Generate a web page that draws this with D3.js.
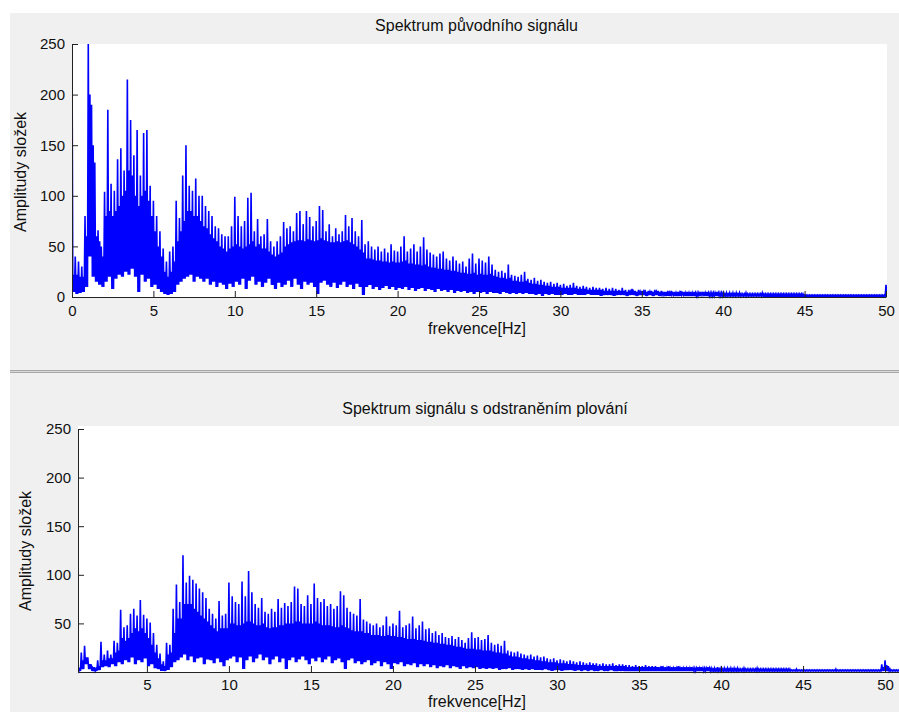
<!DOCTYPE html>
<html><head><meta charset="utf-8">
<script src="https://cdn.jsdelivr.net/npm/d3@7"></script>
<style>html,body{margin:0;padding:0;background:#fff;}svg{display:block;}</style>
</head><body>
<svg id="c" width="899" height="712"></svg>
<script>
// ---------- data (0.2 Hz bins: per-bin peak, level of the dense band, and trough) ----------
const binStep = 0.2;
const topStartHz = 0;
const topPeak = [
250,40,35,30,80, 250,190,133,66,50, 104,185,112,105,136, 147,125,215,175,140, 165,120,162,165,110,
95,80,65,48,35, 45,50,95,78,120, 150,110,105,117,100, 100,90,85,80,70, 68,62,60,60,70,
99,80,70,75,98, 103,65,77,60,62, 77,55,50,55,60, 74,68,70,65,83, 85,72,85,79,70,
75,90,86,65,72, 60,68,62,65,81, 70,78,65,60,76, 52,55,50,47,50, 45,48,44,52,46,
45,50,60,45,48, 52,45,50,59,47, 44,42,40,43,45, 38,36,40,36,33, 35,30,38,43,33,
38,36,34,40,32, 27,25,26,24,32, 22,21,20,22,25, 18,17,19,16,17, 15,14,15,13,14,
12,13,11,12,14, 11,10,11,10,9, 10,9,9,8,9, 8,9,8,7,9, 7,7,8,6,7,
6,7,6,6,7, 6,6,5,6,6, 5,5,6,5,5, 5,5,4,5,5, 5,4,4,5,4,
4,4,4,4,4, 4,3,4,3,3, 3,3,4,3,3, 3,3,3,3,3, 3,3,3,3,3,
2,2,2,2,2, 2,2,2,2,2, 2,2,2,2,2, 2,2,2,2,2, 2,2,2,2,2,
12];
const topBand = [
22,22,20,20,60, 200,150,60,55,40, 80,85,80,85,90, 100,105,125,120,100, 90,100,105,95,80,
65,50,40,25,20, 25,35,55,65,75, 85,85,80,80,75, 70,68,62,58,55, 50,48,45,48,50,
52,50,48,50,52, 55,50,52,48,48, 45,42,40,42,44, 50,52,54,55,56, 56,55,57,56,55,
56,58,56,55,54, 54,55,54,55,56, 54,52,50,47,44, 38,38,37,36,36, 35,35,34,35,34,
34,35,36,33,33, 32,32,31,32,30, 29,29,28,28,27, 27,26,26,25,24, 24,23,23,24,22,
23,22,22,23,21, 20,19,19,18,19, 16,16,15,15,16, 14,13,13,12,12, 11,11,10,10,10,
9,9,9,9,9, 8,8,8,7,7, 7,7,7,6,6, 6,6,6,6,6, 5,5,5,5,5,
5,5,5,5,5, 5,4,5,4,4, 4,4,4,4,4, 4,4,4,4,4, 4,4,4,4,4,
3,3,3,3,3, 3,3,3,3,3, 3,3,3,3,3, 3,3,3,3,3, 3,3,3,3,3,
2,2,2,2,2, 2,2,2,2,2, 2,2,2,2,2, 2,2,2,2,2, 2,2,2,2,2,
6];
const topTrough = [
5,3,4,5,10, 40,20,15,12,10, 15,20,8,18,22, 20,25,22,28,20, 5,22,15,18,10,
12,8,5,3,2, 3,5,12,15,18, 20,22,15,20,18, 15,18,12,15,10, 14,12,8,13,10,
15,12,18,8,16, 20,12,15,10,14, 18,12,8,14,10, 12,16,10,18,12, 8,15,12,14,10,
3,14,16,12,10, 14,9,12,15,10, 12,8,13,10,2, 10,12,8,10,7, 9,11,8,10,7,
9,8,10,7,9, 6,8,9,6,8, 7,5,8,6,7, 5,7,4,6,5, 6,4,5,3,5,
4,5,3,5,4, 4,3,5,4,3, 4,3,4,3,4, 3,3,2,3,1, 3,2,3,2,2,
2,3,2,2,3, 2,2,2,3,2, 2,2,1,2,2, 2,1,2,2,2, 1,2,2,1,2,
2,1,2,1,2, 1,2,1,1,2, 1,1,2,1,1, 1,1,1,2,1, 1,1,1,1,1,
1,1,1,1,1, 1,1,1,1,1, 1,1,1,1,1, 1,1,1,1,1, 1,1,1,1,1,
1,1,1,1,1, 1,1,1,1,1, 1,1,1,1,1, 1,1,1,1,1, 1,1,1,1,1,
2];
const botStartHz = 0.8;
const botPeak = [
5,20,27,15,8, 5,12,31,18,22, 18,32,30,64,46, 48,60,65,58,74, 59,55,51,40,28,
19,11,30,28,65, 90,72,120,92,99, 95,91,86,82,76, 65,60,55,73,58, 60,92,78,72,70,
93,78,104,82,70, 66,76,62,60,65, 62,75,66,71,68, 72,88,86,70,68, 79,70,91,76,72,
75,68,70,65,68, 83,79,66,62,60, 58,75,54,52,50, 48,50,46,48,57, 47,50,48,63,46,
48,50,57,45,48, 52,44,45,40,42, 38,40,36,35,37, 34,36,33,30,35, 41,35,36,33,34,
38,30,28,29,27, 32,22,21,20,21, 19,18,17,18,16, 17,15,16,14,13, 14,12,13,12,11,
12,11,10,11,10, 9,10,9,9,8, 9,8,8,9,7, 8,8,7,7,6, 7,6,6,7,6,
6,6,5,6,5, 6,5,5,6,5, 5,5,5,4,5, 5,4,5,4,4, 5,4,4,4,4,
4,4,3,4,3, 3,3,4,3,3, 3,3,3,3,3, 3,3,3,2,3, 2,2,2,2,2,
2,2,2,2,2, 2,3,2,2,2, 2,2,2,2,2, 2,2,2,2,2, 8,12,6,2,2,
2];
const botBand = [
3,12,15,8,4, 3,6,12,12,14, 14,20,22,35,32, 35,40,45,42,45, 40,35,28,20,14,
8,6,18,20,40, 55,55,70,70,70, 65,62,58,55,52, 48,45,42,45,45, 45,50,50,48,48,
50,52,52,50,48, 48,50,46,45,46, 46,48,48,50,50, 50,52,52,50,50, 50,50,52,50,48,
48,48,47,46,46, 48,46,45,43,42, 42,42,40,40,38, 38,38,37,37,38, 37,37,36,36,35,
34,34,34,33,33, 32,31,31,30,30, 29,29,28,28,27, 26,26,25,24,24, 24,23,23,22,22,
22,21,20,20,19, 19,17,16,16,15, 14,14,13,13,12, 12,11,11,10,10, 10,9,9,9,8,
8,8,7,7,7, 7,7,7,6,6, 6,6,6,6,6, 6,6,5,5,5, 5,5,5,5,5,
5,5,4,4,4, 4,4,4,4,4, 4,4,4,4,4, 4,4,4,3,3, 3,3,3,3,3,
3,3,3,3,3, 3,3,3,3,3, 3,3,3,3,3, 3,3,2,2,2, 2,2,2,2,2,
2,2,2,2,2, 2,2,2,2,2, 2,2,2,2,2, 2,2,2,2,2, 5,7,3,2,2,
2];
const botTrough = [
1,3,8,3,1, 1,2,5,6,5, 8,6,10,8,12, 10,15,8,12,10, 14,6,8,4,3,
1,1,2,5,10, 12,15,18,12,16, 10,14,15,8,13, 12,9,14,10,6, 12,14,16,10,15,
3,12,16,10,14, 18,12,15,8,13, 16,10,14,3,12, 15,10,13,16,12, 8,14,11,15,10,
13,16,9,12,14, 10,3,12,14,9, 11,8,10,12,7, 9,11,6,10,8, 3,9,8,10,6,
8,7,9,5,8, 6,8,5,7,4, 6,5,7,4,6, 5,3,6,4,5, 4,5,3,4,3,
4,3,4,2,3, 3,4,2,3,3, 2,3,2,3,2, 2,2,3,2,1, 2,2,1,2,2,
2,1,2,1,2, 1,2,1,1,2, 1,1,2,1,1, 1,1,1,1,1, 1,1,1,1,1,
1,1,1,1,1, 1,1,1,1,1, 1,1,1,1,1, 1,1,1,1,1, 1,1,1,1,1,
1,1,1,1,1, 1,1,1,1,1, 1,1,1,1,1, 1,1,1,1,1, 1,1,1,1,1,
1,1,1,1,1, 1,1,1,1,1, 1,1,1,1,1, 1,1,1,1,1, 1,1,1,1,1,
1];
const topXTicks = [0,5,10,15,20,25,30,35,40,45,50];
const topYTicks = [0,50,100,150,200,250];
const botXTicks = [5,10,15,20,25,30,35,40,45,50];
const botYTicks = [50,100,150,200,250];
const titleTop = "Spektrum původního signálu";
const titleBot = "Spektrum signálu s odstraněním plování";
const xLabelText = "frekvence[Hz]";
const yLabelText = "Amplitudy složek";

// ---------- drawing ----------
const FONT = "'Liberation Sans', Arial, sans-serif";
const svg = d3.select("#c");
svg.append("rect").attr("x",10).attr("y",13).attr("width",889).attr("height",357).attr("fill","#f0f0f0");
svg.append("rect").attr("x",10).attr("y",370).attr("width",889).attr("height",3).attr("fill","#a8a8a8");
svg.append("rect").attr("x",10).attr("y",371).attr("width",889).attr("height",1).attr("fill","#d8d8d8");
svg.append("rect").attr("x",10).attr("y",373).attr("width",889).attr("height",339).attr("fill","#f0f0f0");

const panels = [
  {id:"t", start:topStartHz, peak:topPeak, band:topBand, trough:topTrough, xd:[0,50], xr:[72,886], yr:[297,44],
   xt:topXTicks, yt:topYTicks, title:titleTop, tx:476.5, ty:31, xlx:477, xly:334, ylx:25.5, yly:172,
   xpad:8.5, bg:[72,44,815,254]},
  {id:"b", start:botStartHz, peak:botPeak, band:botBand, trough:botTrough, xd:[0.8,50.85], xr:[78,899], yr:[672,429],
   xt:botXTicks, yt:botYTicks, title:titleBot, tx:485, ty:414, xlx:477, xly:707, ylx:30.5, yly:551,
   xpad:7, bg:[78,426,821,247]}
];

panels.forEach(p => {
  const x = d3.scaleLinear().domain(p.xd).range(p.xr);
  const y = d3.scaleLinear().domain([0,250]).range(p.yr);
  svg.append("rect").attr("x",p.bg[0]).attr("y",p.bg[1]).attr("width",p.bg[2]).attr("height",p.bg[3]).attr("fill","#fff");
  svg.append("clipPath").attr("id","clip"+p.id).append("rect")
     .attr("x",p.bg[0]).attr("y",p.bg[1]).attr("width",p.bg[2]).attr("height",p.bg[3]+1);
  // trace: peak -> trough -> band -> trough within each bin
  const pts = [];
  p.peak.forEach((v,i) => {
    const f = p.start + i*binStep;
    pts.push([f, v]);
    pts.push([f + binStep*0.25, p.trough[i]]);
    pts.push([f + binStep*0.5, p.band[i]]);
    pts.push([f + binStep*0.75, p.trough[i]]);
  });
  const line = d3.line().x(d => x(d[0])).y(d => y(d[1]));
  svg.append("path").attr("clip-path","url(#clip"+p.id+")").attr("d", line(pts))
     .attr("fill","none").attr("stroke","#0000ff").attr("stroke-width",1.6).attr("stroke-linejoin","miter");

  const gx = svg.append("g").attr("transform",`translate(0,${p.yr[0]})`)
     .call(d3.axisBottom(x).tickValues(p.xt).tickSizeInner(-6).tickSizeOuter(0).tickPadding(p.xpad).tickFormat(d3.format("d")));
  const gy = svg.append("g").attr("transform",`translate(${p.xr[0]},0)`)
     .call(d3.axisLeft(y).tickValues(p.yt).tickSizeInner(-6).tickSizeOuter(0).tickPadding(7).tickFormat(d3.format("d")));
  [gx,gy].forEach(g => {
    g.attr("font-family",FONT).attr("font-size",15);
    g.selectAll("text").attr("fill","#111");
    g.selectAll("line,path").attr("stroke","#222");
  });

  svg.append("text").attr("x",p.tx).attr("y",p.ty).attr("text-anchor","middle")
     .attr("font-family",FONT).attr("font-size",16).attr("fill","#111").text(p.title);
  svg.append("text").attr("x",p.xlx).attr("y",p.xly).attr("text-anchor","middle")
     .attr("font-family",FONT).attr("font-size",16).attr("fill","#111").text(xLabelText);
  svg.append("text").attr("transform",`translate(${p.ylx},${p.yly}) rotate(-90)`).attr("text-anchor","middle")
     .attr("font-family",FONT).attr("font-size",16).attr("fill","#111").text(yLabelText);
});
</script>
</body></html>
